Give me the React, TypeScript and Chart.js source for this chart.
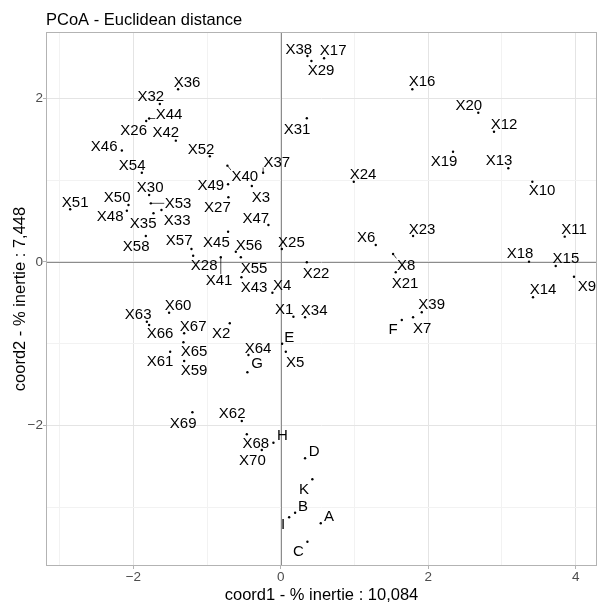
import React, { useEffect, useRef } from 'react';
import { Chart, registerables } from 'chart.js';
Chart.register(...registerables);

const names = [
  'X1','X2','X3','X4','X5','X6','X7','X8','X9','X10',
  'X11','X12','X13','X14','X15','X16','X17','X18','X19','X20',
  'X21','X22','X23','X24','X25','X26','X27','X28','X29','X30',
  'X31','X32','X33','X34','X35','X36','X37','X38','X39','X40',
  'X41','X42','X43','X44','X45','X46','X47','X48','X49','X50',
  'X51','X52','X53','X54','X55','X56','X57','X58','X59','X60',
  'X61','X62','X63','X64','X65','X66','X67','X68','X69','X70',
  'A','B','C','D','E','F','G','H','I','K',
];

const coord1 = [
  0.171, -0.692, -0.393, -0.114, 0.068, 1.288, 1.794, 1.523, 3.977, 3.412,
  3.851, 2.892, 3.086, 3.421, 3.729, 1.784, 0.587, 3.367, 2.336, 2.679,
  1.559, 0.353, 1.794, 0.990, 0.014, -1.826, -0.711, -1.189, 0.415, -1.786,
  0.353, -1.641, -1.619, 0.329, -1.727, -1.393, -0.240, 0.361, 1.912, -0.724,
  -0.814, -1.424, -0.534, -1.786, -0.715, -2.156, -0.168, -2.088, -0.715, -2.066,
  -2.857, -0.963, -1.763, -1.885, -0.542, -0.610, -1.212, -1.831, -1.311, -1.515,
  -1.501, -0.529, -1.817, -0.439, -1.321, -1.786, -1.311, -0.461, -1.199, -0.258,
  0.542, 0.194, 0.361, 0.329, 0.018, 1.641, -0.453, -0.100, 0.113, 0.428,
];

const coord2 = [
  -0.670, -0.750, 0.930, -0.376, -1.098, 0.208, -0.677, 0.098, -0.180, 0.983,
  0.310, 1.595, 1.147, -0.432, -0.049, 2.114, 2.493, 0.004, 1.350, 1.827,
  -0.126, -0.004, 0.318, 0.983, 0.159, 1.726, 0.792, 0.077, 2.460, 0.820,
  1.759, 1.934, 0.636, -0.677, 0.596, 2.114, 1.093, 2.521, -0.616, 1.179,
  0.058, 1.485, -0.187, 1.756, 0.371, 1.365, 0.453, 0.628, 0.951, 0.698,
  0.645, 1.294, 0.718, 1.093, 0.058, 0.126, 0.159, 0.318, -1.212, -0.621,
  -1.098, -1.946, -0.731, -1.138, -0.983, -0.771, -0.873, -2.109, -1.840, -2.301,
  -3.198, -3.069, -3.424, -2.403, -1.000, -0.710, -1.350, -2.212, -3.125, -2.660,
];

// repelled label anchor positions (data coordinates)
const labelCoord1 = [
  0.045, -0.809, -0.271, 0.018, 0.194, 1.157, 1.916, 1.699, 4.153, 3.543,
  3.977, 3.028, 2.960, 3.557, 3.868, 1.916, 0.710, 3.245, 2.214, 2.549,
  1.685, 0.479, 1.916, 1.116, 0.144, -1.996, -0.860, -1.040, 0.546, -1.772,
  0.221, -1.763, -1.406, 0.452, -1.867, -1.271, -0.054, 0.244, 2.047, -0.488,
  -0.837, -1.559, -0.362, -1.515, -0.873, -2.396, -0.339, -2.315, -0.949, -2.220,
  -2.789, -1.081, -1.393, -2.016, -0.362, -0.430, -1.379, -1.962, -1.176, -1.393,
  -1.637, -0.660, -1.935, -0.308, -1.176, -1.637, -1.189, -0.339, -1.325, -0.385,
  0.655, 0.302, 0.239, 0.452, 0.113, 1.523, -0.321, 0.022, 0.031, 0.316,
];

const labelCoord2 = [
  -0.575, -0.860, 0.799, -0.282, -1.220, 0.310, -0.799, -0.028, -0.294, 0.881,
  0.412, 1.698, 1.248, -0.330, 0.058, 2.215, 2.595, 0.114, 1.240, 1.930,
  -0.248, -0.126, 0.412, 1.086, 0.248, 1.624, 0.677, -0.028, 2.350, 0.918,
  1.636, 2.032, 0.514, -0.579, 0.477, 2.203, 1.228, 2.616, -0.514, 1.053,
  -0.220, 1.595, -0.302, 1.820, 0.248, 1.420, 0.542, 0.567, 0.942, 0.796,
  0.738, 1.383, 0.722, 1.187, -0.070, 0.217, 0.269, 0.200, -1.322, -0.526,
  -1.212, -1.840, -0.636, -1.044, -1.086, -0.860, -0.780, -2.212, -1.962, -2.424,
  -3.109, -2.987, -3.537, -2.310, -0.914, -0.820, -1.236, -2.109, -3.198, -2.770,
];

const xTickValues = [-2, 0, 2, 4];
const yTickValues = [-2, 0, 2];
const xRange = [-3.185, 4.289];
const yRange = [-3.721, 2.815];

const titleText = 'PCoA - Euclidean distance';
const xTitle = 'coord1 - % inertie : 10,084';
const yTitle = 'coord2 - % inertie : 7,448';

const FONT = "'Liberation Sans', Arial, Helvetica, sans-serif";

export default function App() {
  const ref = useRef<HTMLCanvasElement>(null);

  useEffect(() => {
    const canvas = ref.current;
    if (!canvas) return;

    const isMajor = (list: number[], v: number) => list.some((t) => Math.abs(t - v) < 1e-9);
    const fmt = (v: number) => (v < 0 ? '\u2212' + Math.abs(v) : String(v));
    const unitTicks = (min: number, max: number) => {
      const out: { value: number }[] = [];
      for (let v = Math.ceil(min); v <= Math.floor(max); v++) out.push({ value: v });
      return out;
    };

    const panelPlugin = {
      id: 'panelDecor',
      beforeDatasetsDraw(chart: any) {
        const { ctx, chartArea: a, scales } = chart;
        const x0 = Math.round(scales.x.getPixelForValue(0)) + 0.5;
        const y0 = Math.round(scales.y.getPixelForValue(0)) + 0.5;
        ctx.save();
        ctx.strokeStyle = '#8c8c8c';
        ctx.lineWidth = 1;
        ctx.beginPath();
        ctx.moveTo(x0, a.top);
        ctx.lineTo(x0, a.bottom);
        ctx.moveTo(a.left, y0);
        ctx.lineTo(a.right, y0);
        ctx.stroke();
        ctx.restore();
      },
      afterDraw(chart: any) {
        const { ctx, chartArea: a } = chart;
        ctx.save();
        ctx.strokeStyle = '#b3b3b3';
        ctx.lineWidth = 1;
        ctx.strokeRect(Math.round(a.left) + 0.5, Math.round(a.top) + 0.5,
          Math.round(a.right - a.left) - 1, Math.round(a.bottom - a.top) - 1);

        ctx.fillStyle = '#000000';
        ctx.font = `16.5px ${FONT}`;
        ctx.textAlign = 'left';
        ctx.textBaseline = 'alphabetic';
        ctx.fillText(titleText, a.left, 25);

        ctx.textAlign = 'center';
        ctx.fillText(xTitle, (a.left + a.right) / 2, 600);

        ctx.translate(25, (a.top + a.bottom) / 2);
        ctx.rotate(-Math.PI / 2);
        ctx.fillText(yTitle, 0, 0);
        ctx.restore();
      },
    };

    const labelPlugin = {
      id: 'pointLabels',
      afterDatasetsDraw(chart: any) {
        const { ctx, scales } = chart;
        const fs = 15;
        const cap = fs * 0.716;
        ctx.save();
        ctx.font = `${fs}px ${FONT}`;
        ctx.textAlign = 'center';
        ctx.textBaseline = 'alphabetic';
        names.forEach((name, i) => {
          const px = scales.x.getPixelForValue(coord1[i]);
          const py = scales.y.getPixelForValue(coord2[i]);
          const lx = scales.x.getPixelForValue(labelCoord1[i]);
          const ly = scales.y.getPixelForValue(labelCoord2[i]);
          const w = ctx.measureText(name).width;
          const pad = 0.5;
          const bx0 = lx - w / 2 - pad, bx1 = lx + w / 2 + pad;
          const by0 = ly - cap / 2 - pad, by1 = ly + cap / 2 + pad;
          const cx = Math.min(Math.max(px, bx0), bx1);
          const cy = Math.min(Math.max(py, by0), by1);
          const d = Math.hypot(cx - px, cy - py);
          if (d > 5) {
            ctx.strokeStyle = '#000000';
            ctx.lineWidth = 0.7;
            ctx.beginPath();
            ctx.moveTo(px, py);
            ctx.lineTo(cx, cy);
            ctx.stroke();
          }
          ctx.fillStyle = '#000000';
          ctx.fillText(name, lx, ly + cap / 2);
        });
        ctx.restore();
      },
    };

    const chart = new Chart(canvas, {
      type: 'scatter',
      data: {
        datasets: [
          {
            data: names.map((_, i) => ({ x: coord1[i], y: coord2[i] })),
            pointRadius: 1.2,
            pointHoverRadius: 1.2,
            pointBackgroundColor: '#000000',
            pointBorderWidth: 0,
            borderColor: '#000000',
          },
        ],
      },
      options: {
        responsive: false,
        animation: false,
        devicePixelRatio: 1,
        events: [],
        layout: { padding: { top: 32, right: 2, left: 0, bottom: 0 } },
        plugins: {
          legend: { display: false },
          title: { display: false },
          tooltip: { enabled: false },
        },
        scales: {
          x: {
            type: 'linear',
            position: 'bottom',
            min: xRange[0],
            max: xRange[1],
            afterBuildTicks: (s: any) => { s.ticks = unitTicks(xRange[0], xRange[1]); },
            afterFit: (s: any) => { s.height = 37; },
            ticks: {
              autoSkip: false,
              maxRotation: 0,
              padding: 0,
              color: '#4d4d4d',
              font: { family: FONT, size: 13.5 },
              callback: (v: any) => (isMajor(xTickValues, Number(v)) ? fmt(Number(v)) : ''),
            },
            grid: {
              color: (c: any) => (isMajor(xTickValues, c.tick?.value) ? '#e4e4e4' : '#f2f2f2'),
              lineWidth: 1,
              tickLength: 3,
              tickColor: (c: any) => (isMajor(xTickValues, c.tick?.value) ? '#b3b3b3' : 'rgba(0,0,0,0)'),
            },
            border: { display: false },
          },
          y: {
            type: 'linear',
            position: 'left',
            min: yRange[0],
            max: yRange[1],
            afterBuildTicks: (s: any) => { s.ticks = unitTicks(yRange[0], yRange[1]); },
            afterFit: (s: any) => { s.width = 46; },
            ticks: {
              autoSkip: false,
              padding: 0,
              color: '#4d4d4d',
              font: { family: FONT, size: 13.5 },
              callback: (v: any) => (isMajor(yTickValues, Number(v)) ? fmt(Number(v)) : ''),
            },
            grid: {
              color: (c: any) => (isMajor(yTickValues, c.tick?.value) ? '#e4e4e4' : '#f2f2f2'),
              lineWidth: 1,
              tickLength: 3,
              tickColor: (c: any) => (isMajor(yTickValues, c.tick?.value) ? '#b3b3b3' : 'rgba(0,0,0,0)'),
            },
            border: { display: false },
          },
        },
      },
      plugins: [panelPlugin, labelPlugin],
    } as any);

    return () => chart.destroy();
  }, []);

  return (
    <div style={{ position: 'fixed', left: 0, top: 0, width: 599, height: 603, background: '#ffffff' }}>
      <canvas ref={ref} width={599} height={603} style={{ width: 599, height: 603, display: 'block' }} />
    </div>
  );
}
